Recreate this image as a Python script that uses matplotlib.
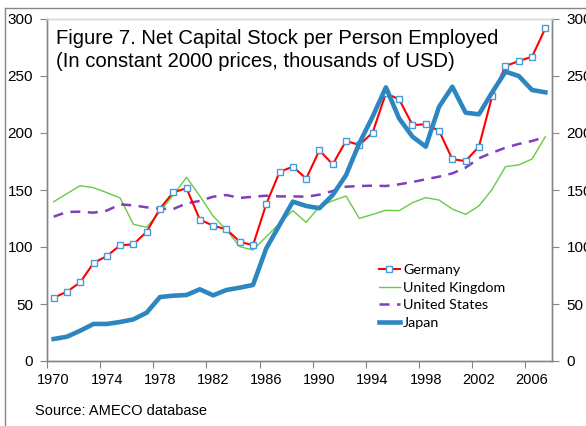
import numpy as np
import matplotlib
matplotlib.use("Agg")
import matplotlib.pyplot as plt

plt.rcParams['font.family'] = ['Liberation Sans', 'DejaVu Sans']

years = list(range(1970, 2008))

germany = [55.5, 60.8, 69, 86, 92, 101.5, 102.3, 113.4, 133.6, 148,
           151.5, 124, 118.7, 115.5, 104.7, 101.5, 137.7, 165.8, 170.5, 160,
           184.8, 172.5, 193, 189.5, 200.3, 234.8, 229.5, 207, 207.6, 202,
           177, 175.4, 188, 232.5, 258.8, 263, 267, 291.8]

uk = [139.7, 146.8, 153.8, 152, 147.7, 143, 119.9, 117.3, 131, 145.6,
      161.1, 144.7, 127.2, 115, 100.3, 97.4, 109, 120.8, 131.9, 121.6,
      135.4, 140.6, 144.7, 125.1, 128.6, 132.2, 131.9, 138.9, 143.3, 141.2,
      133.3, 128.6, 136, 150.6, 170.5, 172, 177.2, 196.8]

us = [126.6, 130.7, 131, 130.1, 131.9, 137.4, 136.5, 134.8, 133.6, 133.3,
      138.3, 140.4, 144.1, 145.6, 143, 144.1, 145, 144.4, 144.4, 144.1,
      145.9, 149.1, 152.9, 153.5, 153.8, 153.5, 155, 157, 159.4, 161.7,
      164.6, 169.6, 177.8, 182.7, 187.1, 190.4, 193, 196.5]

japan = [19.3, 21.3, 26.6, 32.5, 32.5, 34.2, 36.5, 42.4, 56.1, 57.3,
         57.9, 62.9, 57.6, 62.3, 64.3, 66.7, 98.8, 119.3, 139.8, 136,
         134, 145.6, 163, 191, 214.3, 240, 212.7, 196.8, 188, 223,
         240.6, 217.8, 216.4, 235.7, 253.8, 250, 237.7, 235.7]

year_labels = list(range(1970, 2007, 4))
y_ticks = [0, 50, 100, 150, 200, 250, 300]

fig = plt.figure(figsize=(5.86, 4.26), dpi=100)
ax = fig.add_axes([47 / 586, 1 - 361 / 426, 505 / 586, 342 / 426])

ax.plot(years, germany, color='#ff0000', lw=1.5, marker='s', ms=5,
        mfc='white', mec='#4a9ad8', mew=1.0, label='Germany', zorder=4)
ax.plot(years, uk, color='#66cc44', lw=1.0, label='United Kingdom', zorder=2)
ax.plot(years, us, color='#7f3fbf', lw=1.8, ls=(0, (4, 3)),
        label='United States', zorder=3)
ax.plot(years, japan, color='#2e86c1', lw=3.3, label='Japan', zorder=5,
        solid_joinstyle='round')

ax.set_xlim(1969.5, 2007.5)
ax.set_ylim(0, 300)

# ticks on category boundaries, labels in category centres
ax.set_xticks([y - 0.5 for y in year_labels])
ax.set_xticklabels([])
ax.set_xticks(year_labels, minor=True)
ax.set_xticklabels([str(y) for y in year_labels], minor=True, fontsize=10.5)
ax.tick_params(axis='x', which='major', direction='out', length=5,
               color='#868686')
ax.tick_params(axis='x', which='minor', length=0, pad=9)

ax.set_yticks(y_ticks)
ax.set_yticklabels([str(v) for v in y_ticks], fontsize=11)
ax.tick_params(axis='y', direction='out', length=5, color='#868686', pad=5)

ax2 = ax.twinx()
ax2.set_ylim(0, 300)
ax2.set_yticks(y_ticks)
ax2.set_yticklabels([str(v) for v in y_ticks], fontsize=11)
ax2.tick_params(axis='y', direction='out', length=5, color='#868686', pad=5.5)

for a in (ax, ax2):
    for side in ('left', 'right', 'bottom'):
        a.spines[side].set_color('#868686')
        a.spines[side].set_linewidth(1.0)
    a.spines['top'].set_color('#d9d9d9')
    a.spines['top'].set_linewidth(1.0)

ax.text(0.018, 0.97,
        "Figure 7. Net Capital Stock per Person Employed\n"
        "(In constant 2000 prices, thousands of USD)",
        transform=ax.transAxes, fontsize=14.6, va='top', ha='left',
        linespacing=1.22)

leg = ax.legend(loc='upper left', bbox_to_anchor=(0.643, 0.305),
                frameon=False, handlelength=1.45,
                handletextpad=0.25, labelspacing=0.4, borderpad=0,
                prop={'family': ['Lato', 'DejaVu Sans'], 'size': 10.3})

fig.text(35 / 586, 1 - 411 / 426, "Source: AMECO database", fontsize=10.5,
         va='center', ha='left')

# outer chart frame
fig.add_artist(plt.Line2D([5 / 586, 5 / 586], [0, 1 - 8 / 426],
                          transform=fig.transFigure, color='#868686', lw=1))
fig.add_artist(plt.Line2D([5 / 586, 1], [1 - 8 / 426, 1 - 8 / 426],
                          transform=fig.transFigure, color='#868686', lw=1))

fig.savefig("out.png", dpi=100)
